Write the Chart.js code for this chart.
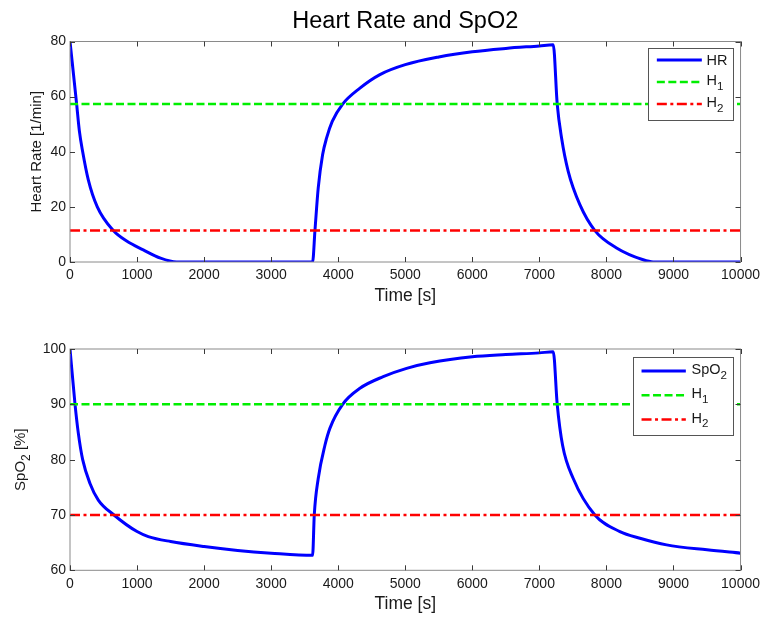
<!DOCTYPE html>
<html>
<head>
<meta charset="utf-8">
<script src="https://cdn.jsdelivr.net/npm/chart.js@4.4.1/dist/chart.umd.min.js"></script>
<style>
  html, body { margin: 0; padding: 0; background: #ffffff; }
  #wrap { position: relative; width: 765px; height: 620px; background: #ffffff; }
  canvas { position: absolute; left: 0; }
</style>
</head>
<body>
<div id="wrap">
  <canvas id="c1" width="765" height="310" style="top:0px"></canvas>
  <canvas id="c2" width="765" height="310" style="top:310px"></canvas>
</div>
<script>
// ---------- data ----------
const xTicks = [0, 1000, 2000, 3000, 4000, 5000, 6000, 7000, 8000, 9000, 10000];
const hrTicks = [0, 20, 40, 60, 80];
const spoTicks = [60, 70, 80, 90, 100];

const hrTime = [0, 99, 140, 189, 273, 407, 646, 845, 1093, 1350, 1590, 3618, 3653, 3702, 3767, 3827, 3911, 4066, 4324, 4622, 5000, 5500, 6000, 6500, 7000, 7207, 7266, 7331, 7430, 7604, 7828, 8151, 8548, 8697, 10000];
const hrValues = [80, 57.3, 47.5, 40, 29.8, 20, 11.4, 7.6, 4.4, 1.4, 0, 0, 11.4, 26.9, 38.9, 45, 51, 57.3, 63.1, 68, 71.6, 74.4, 76.3, 77.5, 78.4, 78.8, 57.3, 45, 32.9, 20.8, 11.4, 5.1, 0.8, 0, 0];

const spoTime = [0, 75, 124, 189, 298, 422, 656, 1000, 1168, 1500, 2000, 2500, 3000, 3618, 3643, 3702, 3802, 3877, 4066, 4324, 4671, 5020, 5368, 6000, 6500, 7000, 7207, 7266, 7346, 7505, 7828, 8201, 8500, 8897, 9500, 10000];
const spoValues = [100, 90, 84.8, 80, 75.7, 72.7, 70, 67, 66.1, 65.2, 64.3, 63.6, 63.1, 62.7, 70, 76.6, 82.6, 85.7, 90, 92.9, 95, 96.5, 97.5, 98.6, 99.0, 99.3, 99.5, 90, 82.6, 76.6, 70, 67, 65.8, 64.6, 63.7, 63.1];

const hrLimits = [57.3, 11.4];
const spoLimits = [90, 70];
const limitSpan = [0, 10000];

const hrLabels = ['HR', 'H₁', 'H₂'];
const spoLabels = ['SpO₂', 'H₁', 'H₂'];

const chartTitle = 'Heart Rate and SpO2';
const xTitle = 'Time [s]';
const hrTitle = 'Heart Rate [1/min]';
const spoTitle = 'SpO₂ [%]';

// ---------- helpers ----------
const FAM = '"Liberation Sans", Arial, Helvetica, sans-serif';
const TXT = '#1a1a1a';

function splitRich(text) {
  const subs = '₀₁₂₃₄₅₆₇₈₉';
  const segs = [];
  for (const ch of text) {
    const i = subs.indexOf(ch);
    const sub = i >= 0;
    const c = sub ? String(i) : ch;
    if (segs.length && segs[segs.length - 1].sub === sub) segs[segs.length - 1].t += c;
    else segs.push({ t: c, sub: sub });
  }
  return segs;
}
function drawRich(ctx, text, x, y, size, align, color) {
  const segs = splitRich(text);
  let w = 0;
  segs.forEach(s => {
    ctx.font = (s.sub ? size * 0.8 : size) + 'px ' + FAM;
    s.w = ctx.measureText(s.t).width;
    w += s.w;
  });
  let cx = align === 'center' ? x - w / 2 : (align === 'right' ? x - w : x);
  ctx.fillStyle = color;
  ctx.textAlign = 'left';
  ctx.textBaseline = 'alphabetic';
  segs.forEach(s => {
    ctx.font = (s.sub ? size * 0.8 : size) + 'px ' + FAM;
    ctx.fillText(s.t, cx, s.sub ? y + size * 0.33 : y);
    cx += s.w;
  });
  return w;
}
function hasSub(text) { return splitRich(text).some(s => s.sub); }

const decor = {
  id: 'decor',
  afterDraw(chart, args, o) {
    const ctx = chart.ctx;
    const a = chart.chartArea;
    const xs = chart.scales.x, ys = chart.scales.y;
    ctx.save();
    // frame
    ctx.strokeStyle = '#8a8a8a';
    ctx.lineWidth = 1;
    ctx.strokeRect(a.left, a.top, a.right - a.left, a.bottom - a.top);
    // inward ticks on all four sides
    ctx.strokeStyle = '#3a3a3a';
    ctx.beginPath();
    xs.ticks.forEach(t => {
      const px = Math.round(xs.getPixelForValue(t.value)) + 0.5;
      ctx.moveTo(px, a.bottom); ctx.lineTo(px, a.bottom - 5);
      ctx.moveTo(px, a.top); ctx.lineTo(px, a.top + 5);
    });
    ys.ticks.forEach(t => {
      const py = Math.round(ys.getPixelForValue(t.value)) + 0.5;
      ctx.moveTo(a.left, py); ctx.lineTo(a.left + 5, py);
      ctx.moveTo(a.right, py); ctx.lineTo(a.right - 5, py);
    });
    ctx.stroke();
    // y title (rotated)
    ctx.save();
    ctx.translate(o.yTitleX, (a.top + a.bottom) / 2);
    ctx.rotate(-Math.PI / 2);
    drawRich(ctx, o.yTitle, 0, 0, 15, 'center', TXT);
    ctx.restore();
    // chart title
    if (o.title) {
      drawRich(ctx, o.title, (a.left + a.right) / 2, 28, 23.5, 'center', '#000');
    }
    // legend box
    const L = o.legend;
    const bx = a.right - L.inset - L.width;
    const by = a.top + L.insetTop;
    ctx.fillStyle = '#ffffff';
    ctx.fillRect(bx, by, L.width, L.height);
    ctx.strokeStyle = '#555555';
    ctx.lineWidth = 1;
    ctx.strokeRect(Math.round(bx) + 0.5, Math.round(by) + 0.5, Math.round(L.width), Math.round(L.height));
    chart.data.datasets.forEach((ds, i) => {
      const ry = by + L.firstRow + i * L.rowH;
      ctx.save();
      ctx.strokeStyle = ds.borderColor;
      ctx.lineWidth = ds.borderWidth;
      ctx.setLineDash(ds.borderDash || []);
      ctx.beginPath();
      ctx.moveTo(bx + L.lineStart, ry);
      ctx.lineTo(bx + L.lineStart + L.lineLen, ry);
      ctx.stroke();
      ctx.restore();
      const shift = hasSub(ds.label) ? -2 : 0;
      drawRich(ctx, ds.label, bx + L.lineStart + L.lineLen + L.textGap, ry + 14.5 * 0.36 + shift, 14.5, 'left', TXT);
    });
    ctx.restore();
  }
};

function lineSet(times, values) { return times.map((t, i) => ({ x: t, y: values[i] })); }
function limitSet(v) { return limitSpan.map(x => ({ x: x, y: v })); }

function makeChart(id, cfg) {
  return new Chart(document.getElementById(id), {
    type: 'line',
    data: {
      datasets: [
        { label: cfg.labels[0], data: lineSet(cfg.time, cfg.values), borderColor: '#0000ff', borderWidth: 3,
          pointRadius: 0, cubicInterpolationMode: 'monotone', order: 3 },
        { label: cfg.labels[1], data: limitSet(cfg.limits[0]), borderColor: '#00ee00', borderWidth: 2.5,
          borderDash: [8, 3.5], pointRadius: 0, order: 2 },
        { label: cfg.labels[2], data: limitSet(cfg.limits[1]), borderColor: '#ff0000', borderWidth: 2.5,
          borderDash: [10, 3.5, 3, 3.5], pointRadius: 0, order: 1 }
      ]
    },
    options: {
      responsive: false,
      animation: false,
      devicePixelRatio: 1,
      layout: { padding: { left: 0, top: cfg.padTop, right: 24.3, bottom: 0 } },
      plugins: {
        legend: { display: false },
        tooltip: { enabled: false },
        title: { display: false },
        decor: { yTitle: cfg.yTitle, yTitleX: cfg.yTitleX, title: cfg.title, legend: cfg.legend }
      },
      scales: {
        x: {
          type: 'linear', min: 0, max: 10000,
          afterBuildTicks: s => { s.ticks = xTicks.map(v => ({ value: v })); },
          afterFit: s => { s.height = cfg.xHeight; },
          grid: { display: false, drawTicks: false },
          border: { display: false },
          ticks: { font: { family: FAM, size: 14 }, color: TXT, padding: 5, maxRotation: 0, autoSkip: false,
                   callback: v => String(v) },
          title: { display: true, text: xTitle, font: { family: FAM, size: 17.5 }, color: TXT,
                   padding: { top: 0, bottom: cfg.xTitlePad } }
        },
        y: {
          type: 'linear', min: cfg.yTicks[0], max: cfg.yTicks[cfg.yTicks.length - 1],
          afterBuildTicks: s => { s.ticks = cfg.yTicks.map(v => ({ value: v })); },
          afterFit: s => { s.width = 70; },
          grid: { display: false, drawTicks: false },
          border: { display: false },
          ticks: { font: { family: FAM, size: 14 }, color: TXT, padding: 4, callback: v => String(v) }
        }
      }
    },
    plugins: [decor]
  });
}

makeChart('c1', {
  time: hrTime, values: hrValues, limits: hrLimits, labels: hrLabels, yTicks: hrTicks,
  padTop: 41.5, xHeight: 48, xTitlePad: 3.7, yTitle: hrTitle, yTitleX: 41, title: chartTitle,
  legend: { inset: 7.4, insetTop: 6.8, width: 85, height: 71.7, firstRow: 11.7, rowH: 22,
            lineStart: 8.7, lineLen: 45, textGap: 4.7 }
});
makeChart('c2', {
  time: spoTime, values: spoValues, limits: spoLimits, labels: spoLabels, yTicks: spoTicks,
  padTop: 39, xHeight: 49.7, xTitlePad: 5.4, yTitle: spoTitle, yTitleX: 25.3, title: null,
  legend: { inset: 7.4, insetTop: 7.7, width: 100, height: 78.3, firstRow: 14.3, rowH: 24.2,
            lineStart: 8.4, lineLen: 44.3, textGap: 5.7 }
});
</script>
</body>
</html>
